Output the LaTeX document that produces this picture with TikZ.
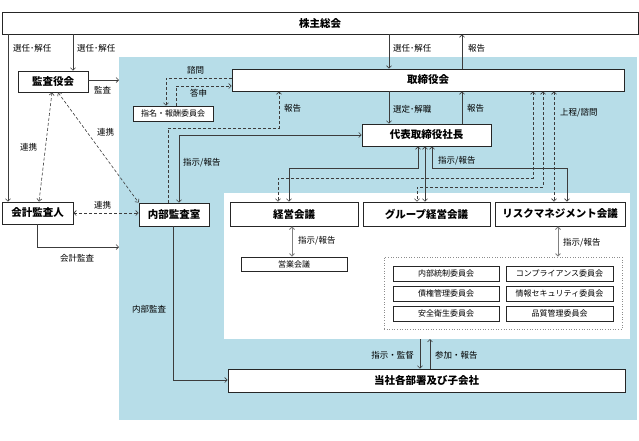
\documentclass[tikz,border=0pt]{standalone}
\usepackage{fontspec}
\setmainfont{Noto Sans CJK JP}
\usetikzlibrary{arrows.meta,calc}
\definecolor{bluebg}{RGB}{183,221,232}
\definecolor{ln}{RGB}{60,60,60}
\begin{document}
\begin{tikzpicture}[x=1pt,y=-1pt,
  box/.style={draw=black!85,line width=0.8pt,fill=white,inner sep=0pt,font=\bfseries\fontsize{10.5}{12}\selectfont},
  sbox/.style={draw=black!85,line width=0.7pt,fill=white,inner sep=0pt,font=\fontsize{8}{9}\selectfont},
  lbl/.style={font=\fontsize{8.5}{10}\selectfont,inner sep=0pt,anchor=west},
  tip/.tip={Straight Barb[length=2.5pt,width=5pt]},
  arr/.style={draw=ln,line width=0.6pt,-tip},
  darr/.style={draw=ln,line width=0.6pt,tip-tip},
  garr/.style={draw=black!50,line width=0.9pt,tip-tip},
  dsh/.style={dash pattern=on 3pt off 2pt}
]
\useasboundingbox (0,0) rectangle (639,440);
\fill[white] (0,0) rectangle (639,440);
\fill[bluebg] (119,57) rectangle (637,420);
\fill[white] (224,193) rectangle (630,339);

% nodes
\node[box,minimum width=636,minimum height=22] (kabu) at (320,23) {株主総会};
\node[box,minimum width=392,minimum height=22] (tori) at (428,80) {取締役会};
\node[box,minimum width=70,minimum height=21] (kansa) at (53,81.5) {監査役会};
\node[sbox,minimum width=80,minimum height=15] (shimei) at (173,113.5) {指名・報酬委員会};
\node[box,minimum width=129,minimum height=22] (dai) at (426.5,135) {代表取締役社長};
\node[box,minimum width=71,minimum height=22] (kaikei) at (37.5,213) {会計監査人};
\node[box,minimum width=70,minimum height=23] (naibu) at (174,214.5) {内部監査室};
\node[box,minimum width=128,minimum height=24] (keiei) at (294,214) {経営会議};
\node[box,minimum width=127,minimum height=24] (group) at (426.5,214) {グループ経営会議};
\node[box,minimum width=130,minimum height=24] (risk) at (560,214) {リスクマネジメント会議};
\node[sbox,minimum width=106,minimum height=14] (eigyo) at (294,264) {営業会議};
\node[draw=black!45,dotted,line width=0.6pt,minimum width=238,minimum height=72,inner sep=0pt] (dotbox) at (503,293) {};
\node[sbox,minimum width=106,minimum height=15] (c1) at (446,273.5) {内部統制委員会};
\node[sbox,minimum width=107,minimum height=15] (c2) at (559.5,273.5) {コンプライアンス委員会};
\node[sbox,minimum width=106,minimum height=15] (c3) at (446,293.5) {債権管理委員会};
\node[sbox,minimum width=107,minimum height=15] (c4) at (559.5,293.5) {情報セキュリティ委員会};
\node[sbox,minimum width=106,minimum height=15] (c5) at (446,313.5) {安全衛生委員会};
\node[sbox,minimum width=107,minimum height=15] (c6) at (559.5,313.5) {品質管理委員会};
\node[box,minimum width=397,minimum height=23] (tosha) at (426.5,380.5) {当社各部署及び子会社};

\coordinate (blueA) at (119,80);
\coordinate (blueB) at (119,247);
\coordinate (wb1) at (420,339);
\coordinate (wb2) at (430,339);

% shareholders
\draw[arr] (kabu.south -| 73,0) -- (kansa.north -| 73,0);
\node[lbl] at (77,48) {選任･解任};
\draw[arr] (kabu.south -| 8,0) -- (kaikei.north -| 8,0);
\node[lbl] at (13,48) {選任･解任};
\draw[arr] (kabu.south -| 389,0) -- (tori.north -| 389,0);
\node[lbl] at (393,48) {選任･解任};
\draw[arr] (tori.north -| 462,0) -- (kabu.south -| 462,0);
\node[lbl] at (468,48) {報告};

% board - president
\draw[arr] (tori.south -| 389,0) -- (dai.north -| 389,0);
\node[lbl] at (393,109) {選定･解職};
\draw[arr] (dai.north -| 462,0) -- (tori.south -| 462,0);
\node[lbl] at (467,108) {報告};

% audit board
\draw[arr] (kansa.east |- blueA) -- (blueA);
\node[lbl] at (94,90) {監査};

% nomination committee
\draw[arr,dsh] (tori.west |- 0,78) -| (shimei.north -| 166,0);
\node[lbl] at (187,70) {諮問};
\draw[arr,dsh] (shimei.north -| 176,0) |- (tori.west |- 0,86);
\node[lbl] at (190,93) {答申};

% internal audit report
\draw[arr,dsh] (naibu.north -| 168,0) -- (168,128) -| (tori.south -| 279,0);
\node[lbl] at (284,108) {報告};

% president - internal audit
\draw[darr] (dai.west |- 0,135) -| (naibu.north -| 179,0);
\node[lbl] at (183,163) {指示/報告};

% president - councils
\draw[darr] (dai.south -| 418,0) -- (418,168) -| (keiei.north -| 289,0);
\draw[darr] (dai.south -| 425,0) -- (group.north -| 425,0);
\draw[darr] (dai.south -| 432,0) -- (432,168) -| (risk.north -| 567,0);
\node[lbl] at (438,161) {指示/報告};

% board - councils (dashed)
\draw[darr,dsh] (tori.south -| 533,0) -- (533,178) -| (keiei.north -| 278,0);
\draw[darr,dsh] (tori.south -| 543,0) -- (543,187) -| (group.north -| 417,0);
\draw[darr,dsh] (tori.south -| 554,0) -- (risk.north -| 554,0);
\node[lbl] at (560,113) {上程/諮問};

% councils sub
\draw[garr] (keiei.south -| 292,0) -- (eigyo.north -| 292,0);
\node[lbl] at (298,241) {指示/報告};
\draw[garr] (risk.south -| 558,0) -- (dotbox.north -| 558,0);
\node[lbl] at (563,243) {指示/報告};

% internal audit -> departments
\draw[arr] (naibu.south -| 173,0) |- (tosha.west |- 0,380);
\node[lbl] at (132,309) {内部監査};

% coordination
\draw[darr,dsh] (kansa.south -| 52,0) -- (kaikei.north -| 39,0);
\node[lbl] at (20,147) {連携};
\draw[darr,dsh] (kansa.south -| 58,0) -- (naibu.north west);
\node[lbl] at (97,132) {連携};
\draw[darr,dsh] (kaikei.east |- 0,213) -- (naibu.west |- 0,213);
\node[lbl] at (94,205) {連携};

% accounting audit
\draw[arr] (kaikei.south -| 37,0) |- (blueB);
\node[lbl] at (60,258) {会計監査};

% departments
\draw[arr] (wb1) -- (tosha.north -| wb1);
\draw[arr] (tosha.north -| wb2) -- (wb2);
\node[lbl,anchor=east] at (414,355) {指示・監督};
\node[lbl] at (435,355) {参加・報告};
\end{tikzpicture}
\end{document}
